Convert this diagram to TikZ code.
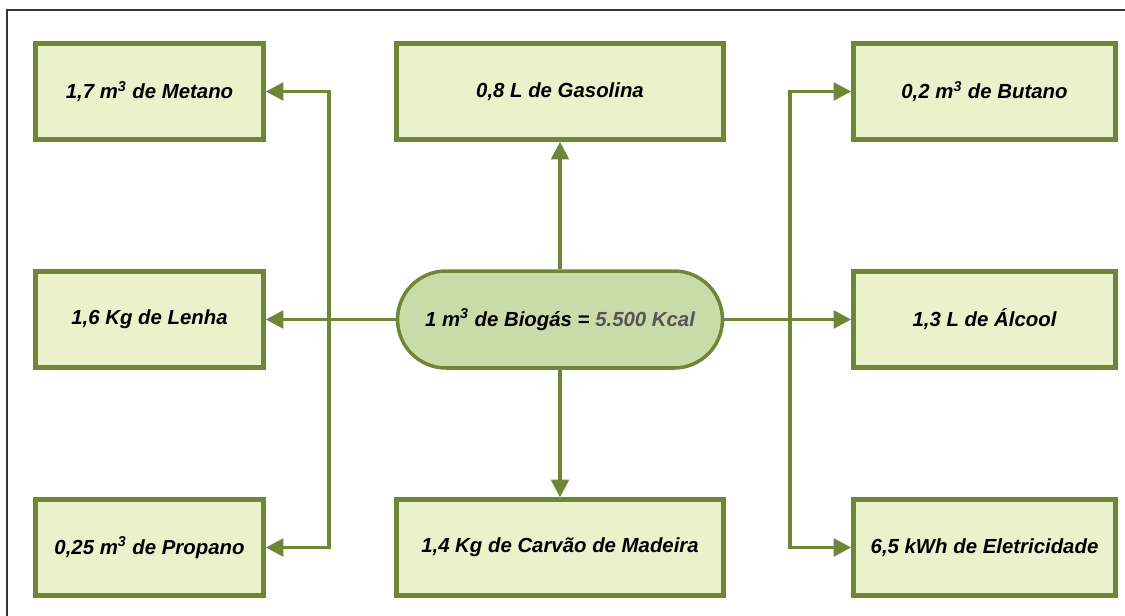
\documentclass[tikz,border=0pt]{standalone}
\usepackage{fontspec}
\setmainfont{Liberation Sans}
\usetikzlibrary{shapes.misc,arrows.meta}
\definecolor{oliva}{HTML}{6E8636}
\definecolor{claro}{HTML}{EBF1CA}
\definecolor{medio}{HTML}{CADBAA}
\definecolor{cinza}{HTML}{555555}
\begin{document}
\begin{tikzpicture}[x=0.02cm,y=-0.02cm,
	caixa/.style={draw=oliva,fill=claro,line width=2.6pt,minimum height=1.92cm,inner sep=0pt,
		font=\fontsize{11.6}{13}\selectfont\bfseries\itshape},
	fonte/.style={draw=oliva,fill=medio,line width=2pt,rounded rectangle,minimum width=6.5cm,
		minimum height=1.94cm,inner sep=0pt,font=\fontsize{11.6}{13}\selectfont\bfseries\itshape},
	seta/.style={draw=oliva,line width=2pt,-{Triangle[length=10pt,width=10pt]}}]
	\useasboundingbox (0,0) rectangle (1125,615);
	\draw[line width=1.1pt,draw=black!80] (7,10) rectangle (1140,630);
	% fonte central
	\node[fonte] (biogas) at (560,319.5) {1 m\textsuperscript{3} de Biogás = \textcolor{cinza}{5.500 Kcal}};
	% coluna esquerda
	\node[caixa,minimum width=4.56cm] (metano) at (149.5,91.5) {1,7 m\textsuperscript{3} de Metano};
	\node[caixa,minimum width=4.56cm] (lenha) at (149.5,319.5) {1,6 Kg de Lenha};
	\node[caixa,minimum width=4.56cm] (propano) at (149.5,547.5) {0,25 m\textsuperscript{3} de Propano};
	% coluna do meio
	\node[caixa,minimum width=6.54cm] (gasolina) at (560,91.5) {0,8 L de Gasolina};
	\node[caixa,minimum width=6.54cm] (carvao) at (560,547.5) {1,4 Kg de Carvão de Madeira};
	% coluna direita
	\node[caixa,minimum width=5.24cm] (butano) at (984.5,91.5) {0,2 m\textsuperscript{3} de Butano};
	\node[caixa,minimum width=5.24cm] (alcool) at (984.5,319.5) {1,3 L de Álcool};
	\node[caixa,minimum width=5.24cm] (eletricidade) at (984.5,547.5) {6,5 kWh de Eletricidade};
	% ligacoes
	\coordinate (esq) at (329,319.5);
	\coordinate (dir) at (790,319.5);
	\draw[seta] (biogas.west) -- (lenha.east);
	\draw[seta] (esq) |- (metano.east);
	\draw[seta] (esq) |- (propano.east);
	\draw[seta] (biogas.east) -- (alcool.west);
	\draw[seta] (dir) |- (butano.west);
	\draw[seta] (dir) |- (eletricidade.west);
	\draw[seta] (biogas.north) -- (gasolina.south);
	\draw[seta] (biogas.south) -- (carvao.north);
\end{tikzpicture}
\end{document}
